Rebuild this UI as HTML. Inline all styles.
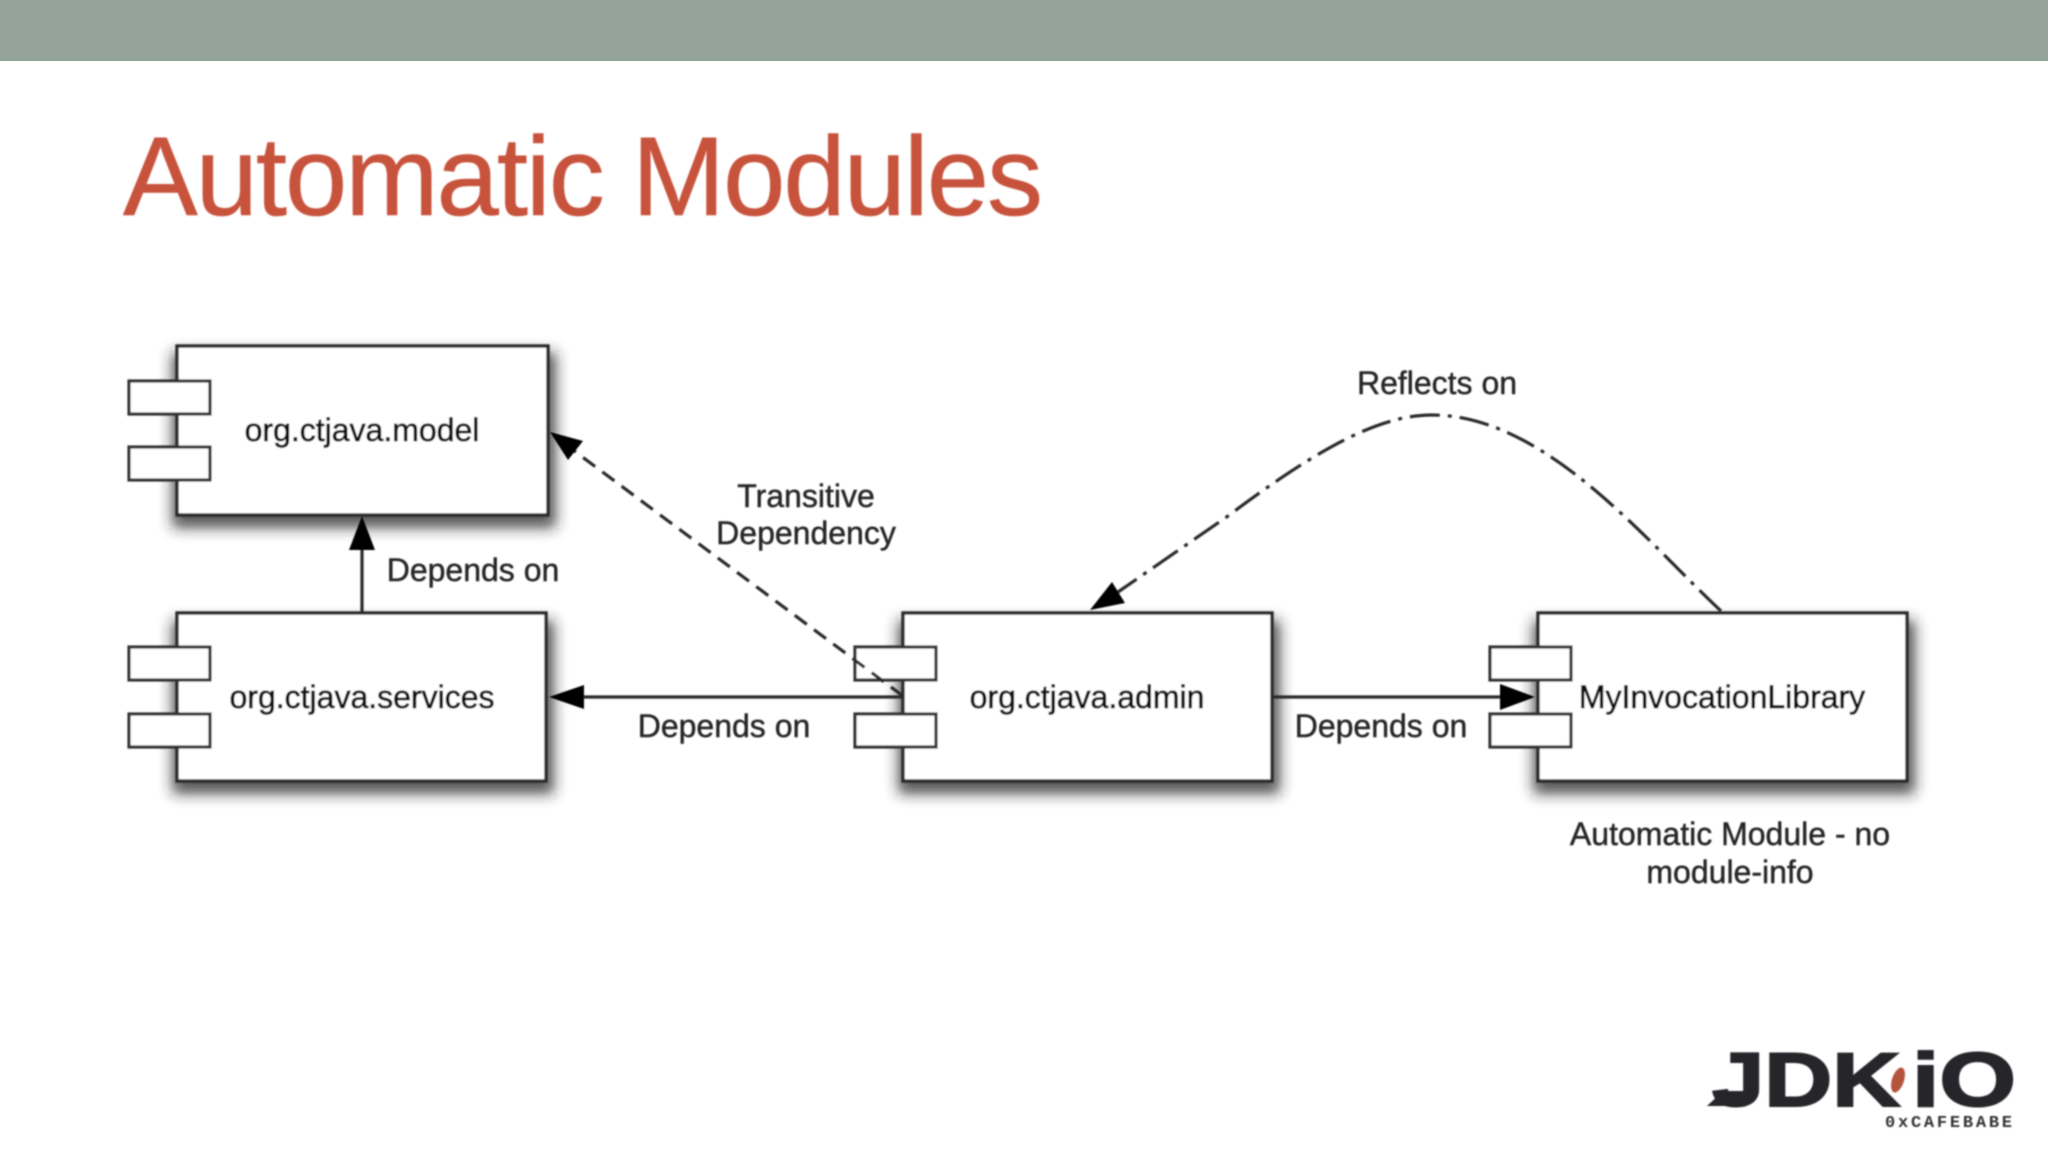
<!DOCTYPE html>
<html lang="en">
<head>
<meta charset="utf-8">
<title>Automatic Modules</title>
<style>
html,body{margin:0;padding:0;background:#fff;width:2048px;height:1152px;overflow:hidden}
svg{display:block;position:absolute;left:0;top:0}
text{font-family:"Liberation Sans",Arial,sans-serif}
.l{font-size:32px;fill:#262626;stroke:#262626;stroke-width:.45;text-anchor:middle}
.d{fill:#0c0c0c;stroke:#0c0c0c;stroke-width:.7}
.box{fill:#fff;stroke:#2c2c2c;stroke-width:3.4}
.port{fill:#fff;stroke:#333;stroke-width:3.2}
.sh{fill:#1a1a1a;opacity:.75;filter:url(#b)}
.ln{fill:none;stroke:#2c2c2c;stroke-width:3.2}
</style>
</head>
<body>
<svg width="2048" height="1152" viewBox="0 0 2048 1152" xmlns="http://www.w3.org/2000/svg">
<defs>
<filter id="b" x="-10%" y="-20%" width="120%" height="140%"><feGaussianBlur stdDeviation="7"/></filter>
<filter id="s" x="-2%" y="-2%" width="104%" height="104%"><feGaussianBlur stdDeviation="0.8"/></filter>
</defs>
<rect width="2048" height="1152" fill="#fff"/>
<rect width="2048" height="61" fill="#94a49b"/>
<g filter="url(#s)">
<text x="123" y="215" font-size="112" fill="#c8533c" stroke="#c8533c" stroke-width=".6" textLength="920" lengthAdjust="spacing">Automatic Modules</text>

<!-- shadows -->
<rect class="sh" x="172" y="352" width="384" height="176"/>
<rect class="sh" x="172" y="620" width="382" height="174"/>
<rect class="sh" x="898" y="620" width="382" height="174"/>
<rect class="sh" x="1533" y="620" width="382" height="174"/>

<!-- boxes -->
<rect class="box" x="177" y="346" width="371" height="169"/>
<rect class="box" x="177" y="613" width="369" height="168"/>
<rect class="box" x="903" y="613" width="369" height="168"/>
<rect class="box" x="1538" y="613" width="369" height="168"/>

<!-- ports -->
<rect class="port" x="129" y="381" width="81" height="33"/>
<rect class="port" x="129" y="447" width="81" height="33"/>
<rect class="port" x="129" y="647" width="81" height="33"/>
<rect class="port" x="129" y="714" width="81" height="33"/>
<rect class="port" x="855" y="647" width="81" height="33"/>
<rect class="port" x="855" y="714" width="81" height="33"/>
<rect class="port" x="1490" y="647" width="81" height="33"/>
<rect class="port" x="1490" y="714" width="81" height="33"/>

<!-- services to model -->
<line class="ln" x1="362" y1="613" x2="362" y2="548"/>
<polygon points="362,516 349,550 375,550" fill="#000"/>

<!-- admin to services -->
<line class="ln" x1="903" y1="697" x2="580" y2="697"/>
<polygon points="549,697 584,685 584,709" fill="#000"/>

<!-- admin to library -->
<line class="ln" x1="1272" y1="697" x2="1505" y2="697"/>
<polygon points="1535,697 1500,684 1500,710" fill="#000"/>

<!-- transitive -->
<line class="ln" x1="903" y1="696" x2="573" y2="450" stroke-dasharray="15 9"/>
<polygon points="550,432 583,441 568,460" fill="#000"/>

<!-- reflects -->
<path class="ln" d="M1721 611 C1645 540 1545 415 1432 415 C1380 415 1320 447 1228 516 L1118 592" stroke-dasharray="30 8 4 8"/>
<polygon points="1090,610 1112,582 1125,603" fill="#000"/>

<!-- labels -->
<text class="l d" x="362" y="441">org.ctjava.model</text>
<text class="l d" x="362" y="708">org.ctjava.services</text>
<text class="l d" x="1087" y="708">org.ctjava.admin</text>
<text class="l d" x="1722" y="708">MyInvocationLibrary</text>
<text class="l" x="473" y="581">Depends on</text>
<text class="l" x="724" y="737">Depends on</text>
<text class="l" x="1381" y="737">Depends on</text>
<text class="l" x="806" y="507">Transitive</text>
<text class="l" x="806" y="544">Dependency</text>
<text class="l" x="1437" y="394">Reflects on</text>
<text class="l" x="1730" y="845">Automatic Module - no</text>
<text class="l" x="1730" y="883">module-info</text>

<!-- logo -->
<polygon points="1707,1106 1723,1091 1745,1091 1745,1106" fill="#26262a"/>
<g fill="#26262a" stroke="#26262a" stroke-width="2" font-weight="700">
<text transform="translate(1712,1106) scale(1.28,1)" font-size="76" textLength="147" lengthAdjust="spacingAndGlyphs">JDK</text>
<text transform="translate(1912,1106) scale(1.3,1)" font-size="76" textLength="80" lengthAdjust="spacingAndGlyphs">iO</text>
</g>
<ellipse cx="1898" cy="1080" rx="6" ry="13" transform="rotate(18 1898 1080)" fill="#b5533c"/>
<text x="1885" y="1127" font-size="17" font-weight="700" fill="#333" textLength="127" lengthAdjust="spacing" style="font-family:'Liberation Mono',monospace">0xCAFEBABE</text>
</g>
</svg>
</body>
</html>
